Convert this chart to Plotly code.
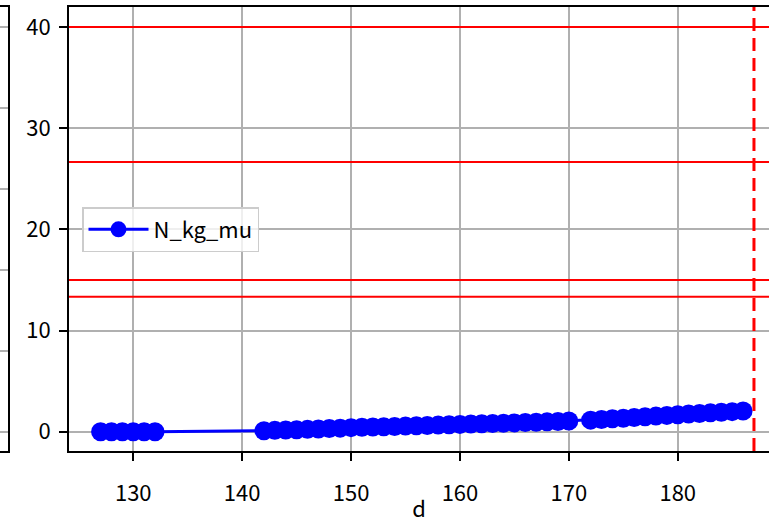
import plotly.graph_objects as go

# data
d_values = [127, 128, 129, 130, 131, 132,
            142, 143, 144, 145, 146, 147, 148, 149, 150, 151, 152, 153, 154, 155,
            156, 157, 158, 159, 160, 161, 162, 163, 164, 165, 166, 167, 168, 169, 170,
            172, 173, 174, 175, 176, 177, 178, 179, 180, 181, 182, 183, 184, 185, 186]
n_kg_mu = [0.0, 0.0, 0.0, 0.0, 0.0, 0.0,
           0.10, 0.13, 0.16, 0.19, 0.23, 0.27, 0.31, 0.35, 0.40, 0.43, 0.46, 0.49, 0.52, 0.55,
           0.58, 0.61, 0.65, 0.68, 0.72, 0.75, 0.78, 0.81, 0.84, 0.87, 0.90, 0.93, 0.97, 1.01, 1.06,
           1.14, 1.21, 1.27, 1.33, 1.40, 1.47, 1.54, 1.61, 1.68, 1.74, 1.80, 1.86, 1.92, 1.98, 2.05]
h_levels = [40.0, 26.67, 15.0, 13.33]
v_level = 187
x_ticks = [130, 140, 150, 160, 170, 180]
y_ticks = [0, 10, 20, 30, 40]
left_panel_ticks = [0, 10, 20, 30, 40, 50]

FONT = "Noto Sans CJK JP, DejaVu Sans, sans-serif"
W, H = 769, 523

fig = go.Figure()
fig.add_trace(go.Scatter(
    x=d_values, y=n_kg_mu, mode="lines+markers", name="N_kg_mu",
    line=dict(color="#0000ff", width=3),
    marker=dict(color="#0000ff", size=19),
    xaxis="x", yaxis="y",
))
# invisible trace for the cut-off left panel
fig.add_trace(go.Scatter(x=[0], y=[0], mode="markers", marker=dict(opacity=0),
                         showlegend=False, hoverinfo="skip", xaxis="x2", yaxis="y2"))

for yv in h_levels:
    fig.add_shape(type="line", xref="x domain", yref="y", x0=0, x1=1, y0=yv, y1=yv,
                  line=dict(color="#ff0000", width=2), layer="above")
fig.add_shape(type="line", xref="x", yref="y domain", x0=v_level, x1=v_level, y0=0, y1=1,
              line=dict(color="#ff0000", width=3, dash="13px,7px"), layer="above")

mt, mb = 7, 72
ph = H - mt - mb
x0 = 69 / W
fig.update_layout(
    width=W, height=H,
    margin=dict(l=0, r=0, t=mt, b=mb, pad=0),
    paper_bgcolor="white", plot_bgcolor="white",
    font=dict(family=FONT, size=22, color="black"),
    xaxis=dict(domain=[x0, 1], range=[124.10, 188.38], tickvals=x_ticks,
               showgrid=True, gridcolor="#b0b0b0", gridwidth=1.5,
               showline=True, linecolor="black", linewidth=1.7, mirror=True,
               ticks="outside", ticklen=8, tickwidth=1.7, tickcolor="black",
               zeroline=False, ticklabelstandoff=14, automargin=False,
               title=dict(text="d", font=dict(size=22), standoff=2)),
    yaxis=dict(domain=[0, 1], range=[-1.91, 41.98], tickvals=y_ticks,
               showgrid=True, gridcolor="#b0b0b0", gridwidth=1.5,
               showline=True, linecolor="black", linewidth=1.7,
               ticks="outside", ticklen=8, tickwidth=1.7, tickcolor="black",
               zeroline=False, ticklabelstandoff=4, automargin=False),
    xaxis2=dict(domain=[0, 8 / W], anchor="y2", range=[0, 1], showgrid=False,
                showticklabels=False, showline=True, linecolor="black", linewidth=1.7,
                mirror=True, zeroline=False, ticks="", automargin=False),
    yaxis2=dict(domain=[0, 1], anchor="x2", side="right", range=[-2.35, 52.47],
                tickvals=left_panel_ticks, showgrid=True, gridcolor="#b0b0b0", gridwidth=1.5,
                showticklabels=False, showline=True, linecolor="black", linewidth=1.7,
                mirror=False, zeroline=False, ticks="", automargin=False),
    legend=dict(x=82 / W, y=(451 - 207) / ph, xanchor="left", yanchor="top",
                bgcolor="rgba(255,255,255,0.8)", bordercolor="#cccccc", borderwidth=1.5,
                font=dict(size=22), itemwidth=60),
    showlegend=True,
)

fig.write_html("out.html", config={"displayModeBar": False},
               post_script="document.body.style.margin='0';document.body.style.padding='0';")
